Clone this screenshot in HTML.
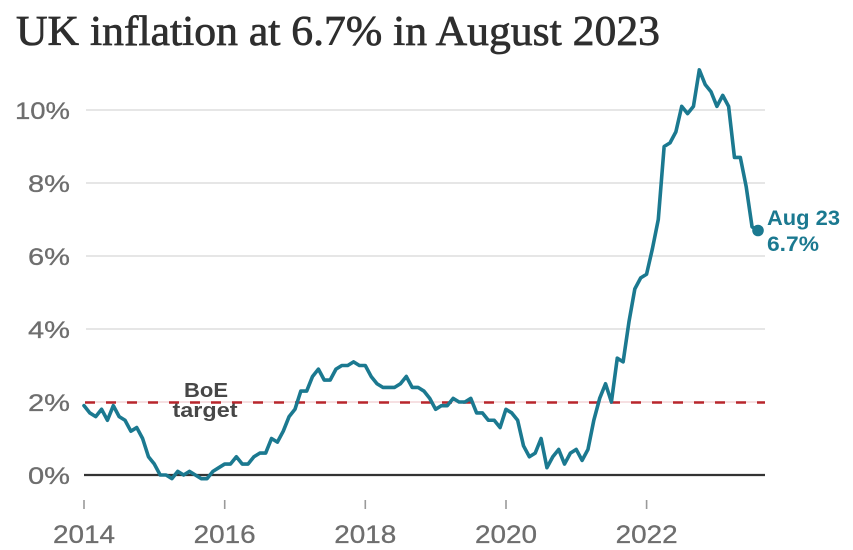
<!DOCTYPE html>
<html>
<head>
<meta charset="utf-8">
<style>
  html, body { margin: 0; padding: 0; background: #ffffff; }
  svg { display: block; }
</style>
</head>
<body>
<svg width="853" height="550" viewBox="0 0 853 550" xmlns="http://www.w3.org/2000/svg">
  <rect x="0" y="0" width="853" height="550" fill="#ffffff"/>
  <!-- Title -->
  <text x="16" y="45" font-family="'Liberation Serif', serif" font-size="42" fill="#2e2e2e" stroke="#2e2e2e" stroke-width="0.7" textLength="644" lengthAdjust="spacingAndGlyphs">UK inflation at 6.7% in August 2023</text>

  <!-- gridlines -->
  <g stroke="#dedede" stroke-width="1.6">
    <line x1="86" y1="110" x2="765" y2="110"/>
    <line x1="86" y1="183" x2="765" y2="183"/>
    <line x1="86" y1="256" x2="765" y2="256"/>
    <line x1="86" y1="329" x2="765" y2="329"/>
    <line x1="86" y1="402" x2="765" y2="402" stroke="#f3d6d8"/>
  </g>

  <!-- y labels -->
  <g font-family="'Liberation Sans', sans-serif" font-size="24" fill="#6e6e6e" stroke="#6e6e6e" stroke-width="0.3" text-anchor="end">
    <text x="70" y="119" textLength="55" lengthAdjust="spacingAndGlyphs">10%</text>
    <text x="70" y="192" textLength="42" lengthAdjust="spacingAndGlyphs">8%</text>
    <text x="70" y="265" textLength="42" lengthAdjust="spacingAndGlyphs">6%</text>
    <text x="70" y="338" textLength="42" lengthAdjust="spacingAndGlyphs">4%</text>
    <text x="70" y="411" textLength="42" lengthAdjust="spacingAndGlyphs">2%</text>
    <text x="70" y="484" textLength="42" lengthAdjust="spacingAndGlyphs">0%</text>
  </g>

  <!-- BoE target dashed line -->
  <line x1="85" y1="402.5" x2="765" y2="402.5" stroke="#b8262c" stroke-width="2.6" stroke-dasharray="10,11"/>

  <!-- zero axis -->
  <line x1="84" y1="475" x2="765" y2="475" stroke="#333333" stroke-width="2.2"/>

  <!-- x ticks -->
  <g stroke="#9a9a9a" stroke-width="1.6">
    <line x1="84" y1="500" x2="84" y2="509"/>
    <line x1="224.7" y1="500" x2="224.7" y2="509"/>
    <line x1="365.3" y1="500" x2="365.3" y2="509"/>
    <line x1="506" y1="500" x2="506" y2="509"/>
    <line x1="646.6" y1="500" x2="646.6" y2="509"/>
  </g>
  <g font-family="'Liberation Sans', sans-serif" font-size="25" fill="#6e6e6e" stroke="#6e6e6e" stroke-width="0.3" text-anchor="middle">
    <text x="84" y="543" textLength="62" lengthAdjust="spacingAndGlyphs">2014</text>
    <text x="224.7" y="543" textLength="62" lengthAdjust="spacingAndGlyphs">2016</text>
    <text x="365.3" y="543" textLength="62" lengthAdjust="spacingAndGlyphs">2018</text>
    <text x="506" y="543" textLength="62" lengthAdjust="spacingAndGlyphs">2020</text>
    <text x="646.6" y="543" textLength="62" lengthAdjust="spacingAndGlyphs">2022</text>
  </g>

  <!-- BoE target label -->
  <g font-family="'Liberation Sans', sans-serif" font-size="20" font-weight="bold" fill="#474747" text-anchor="middle">
    <text x="206" y="397" textLength="44" lengthAdjust="spacingAndGlyphs">BoE</text>
    <text x="205" y="417" textLength="65" lengthAdjust="spacingAndGlyphs">target</text>
  </g>

  <!-- CPI line -->
  <g transform="translate(84,475) scale(5.86,-36.5)">
    <polyline fill="none" stroke="#1b7990" stroke-width="3.6" stroke-linejoin="round" stroke-linecap="round" vector-effect="non-scaling-stroke"
      points="0,1.9 1,1.7 2,1.6 3,1.8 4,1.5 5,1.9 6,1.6 7,1.5 8,1.2 9,1.3 10,1.0 11,0.5
              12,0.3 13,0.0 14,0.0 15,-0.1 16,0.1 17,0.0 18,0.1 19,0.0 20,-0.1 21,-0.1 22,0.1 23,0.2
              24,0.3 25,0.3 26,0.5 27,0.3 28,0.3 29,0.5 30,0.6 31,0.6 32,1.0 33,0.9 34,1.2 35,1.6
              36,1.8 37,2.3 38,2.3 39,2.7 40,2.9 41,2.6 42,2.6 43,2.9 44,3.0 45,3.0 46,3.1 47,3.0
              48,3.0 49,2.7 50,2.5 51,2.4 52,2.4 53,2.4 54,2.5 55,2.7 56,2.4 57,2.4 58,2.3 59,2.1
              60,1.8 61,1.9 62,1.9 63,2.1 64,2.0 65,2.0 66,2.1 67,1.7 68,1.7 69,1.5 70,1.5 71,1.3
              72,1.8 73,1.7 74,1.5 75,0.8 76,0.5 77,0.6 78,1.0 79,0.2 80,0.5 81,0.7 82,0.3 83,0.6
              84,0.7 85,0.4 86,0.7 87,1.5 88,2.1 89,2.5 90,2.0 91,3.2 92,3.1 93,4.2 94,5.1 95,5.4
              96,5.5 97,6.2 98,7.0 99,9.0 100,9.1 101,9.4 102,10.1 103,9.9 104,10.1 105,11.1 106,10.7 107,10.5
              108,10.1 109,10.4 110,10.1 111,8.7 112,8.7 113,7.9 114,6.8 115,6.7"/>
  </g>
  <circle cx="758" cy="230.5" r="5.8" fill="#1b7990"/>

  <!-- end label -->
  <g font-family="'Liberation Sans', sans-serif" font-size="21" font-weight="bold" fill="#1b7990">
    <text x="767" y="225" textLength="73" lengthAdjust="spacingAndGlyphs">Aug 23</text>
    <text x="767" y="251" textLength="52" lengthAdjust="spacingAndGlyphs">6.7%</text>
  </g>
</svg>
</body>
</html>
